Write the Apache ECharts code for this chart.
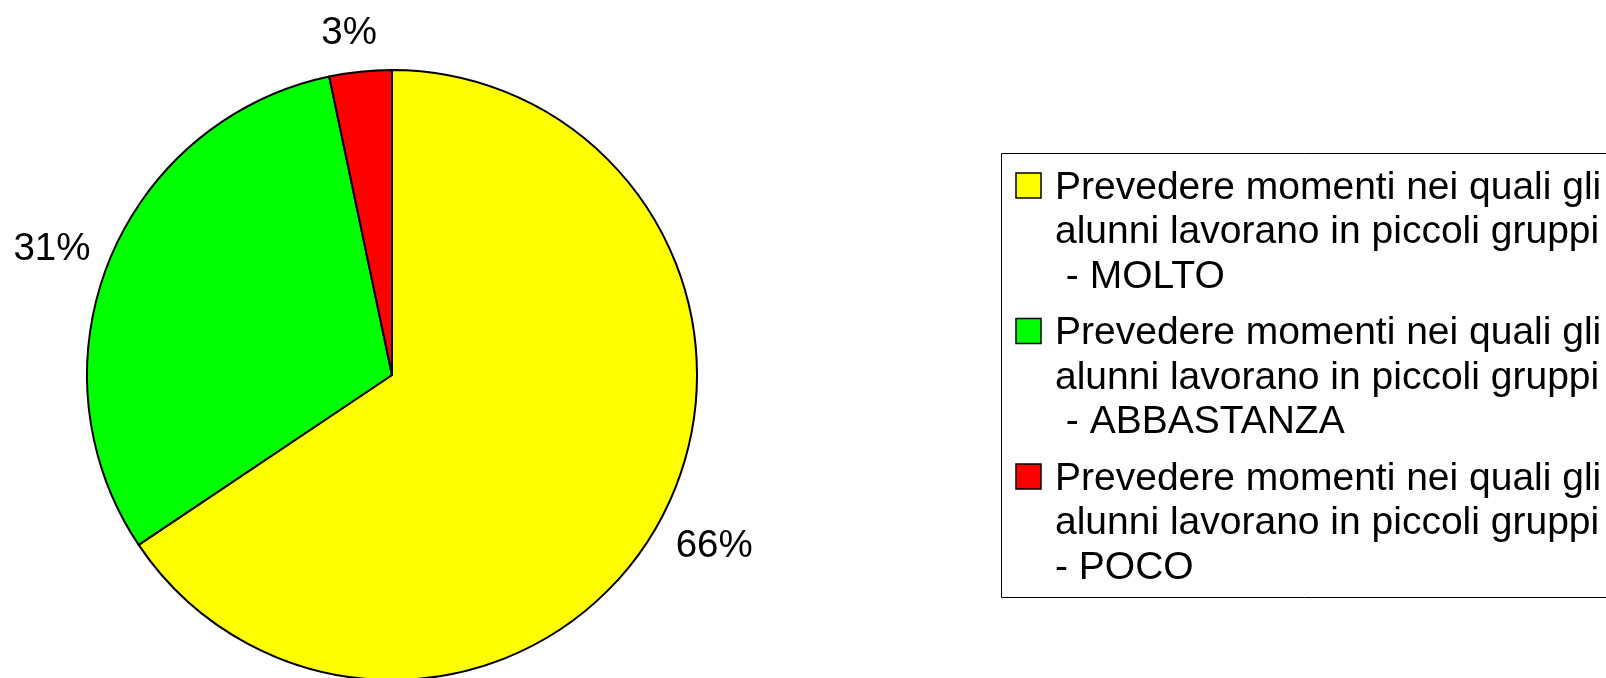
<!DOCTYPE html>
<html>
<head>
<meta charset="utf-8">
<script src="https://cdn.jsdelivr.net/npm/echarts@6/dist/echarts.min.js"></script>
<style>
  html, body { margin: 0; padding: 0; background: #fff; }
  #chart { width: 1606px; height: 678px; }
</style>
</head>
<body>
<div id="chart"></div>
<script>
// Data
const categories = [
  'Prevedere momenti nei quali gli alunni lavorano in piccoli gruppi - MOLTO',
  'Prevedere momenti nei quali gli alunni lavorano in piccoli gruppi - ABBASTANZA',
  'Prevedere momenti nei quali gli alunni lavorano in piccoli gruppi - POCO'
];
const values = [65.6, 31.1, 3.3];
const colors = ['#FFFF00', '#00FF00', '#FF0000'];

// label placement tuning (label line hidden)
const labelLen = [59.6, 27, 38.9];
const labelLen2 = [-43, -11, -25.6];

const chart = echarts.init(document.getElementById('chart'), null, { renderer: 'canvas' });

const FONT = 'Liberation Sans, Arial, sans-serif';

// wrapped legend text as in the reference
function legendText(name, idx) {
  let s = name.replace(' alunni', '\nalunni');
  s = s.replace(' - ', idx === 2 ? '\n- ' : '\n - ');
  return s;
}

// legend box drawn with graphic elements (multi-line entries, marker on first line)
const LEG_X = 1001, LEG_Y = 153, LEG_W = 700, LEG_H = 444;
const ITEM_STEP = 145.5, LINE_H = 44.5;
const legendElements = [{
  type: 'rect',
  shape: { x: LEG_X + 0.5, y: LEG_Y + 0.5, width: LEG_W, height: LEG_H },
  style: { fill: '#fff', stroke: '#000', lineWidth: 1 },
  z: 10
}];
categories.forEach(function (c, i) {
  const y0 = 173 + i * ITEM_STEP;
  legendElements.push({
    type: 'rect',
    shape: { x: 1016, y: y0, width: 25, height: 25 },
    style: { fill: colors[i], stroke: '#000', lineWidth: 1.5 },
    z: 11
  });
  legendElements.push({
    type: 'text',
    x: 1055,
    y: y0 + 15 - LINE_H / 2,
    style: {
      text: legendText(c, i),
      font: '39px ' + FONT,
      fill: '#000',
      lineHeight: LINE_H,
      verticalAlign: 'top',
      align: 'left'
    },
    z: 11
  });
});

const option = {
  backgroundColor: '#ffffff',
  animation: false,
  graphic: legendElements,
  series: [{
    type: 'pie',
    center: [392, 375],
    radius: 305,
    startAngle: 90,
    clockwise: true,
    avoidLabelOverlap: false,
    percentPrecision: 0,
    itemStyle: { borderColor: '#000', borderWidth: 2 },
    label: {
      show: true,
      position: 'outside',
      formatter: '{d}%',
      fontFamily: FONT,
      fontSize: 38.5,
      color: '#000',
      distanceToLabelLine: 5
    },
    labelLine: { show: false },
    emphasis: { disabled: true },
    data: categories.map(function (c, i) {
      return {
        name: c,
        value: values[i],
        itemStyle: { color: colors[i] },
        labelLine: { show: false, length: labelLen[i], length2: labelLen2[i] }
      };
    })
  }]
};

chart.setOption(option);
</script>
</body>
</html>
